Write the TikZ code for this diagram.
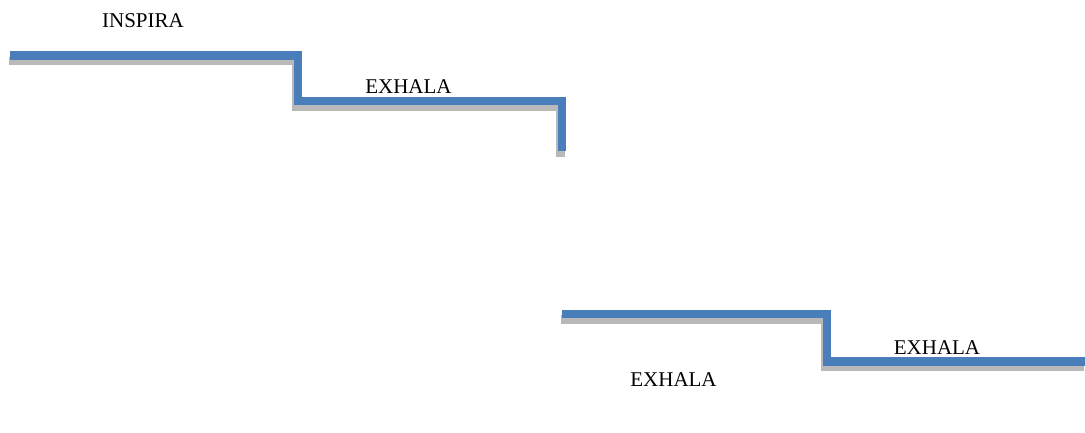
\documentclass[tikz,border=0pt]{standalone}
\usepackage{fontspec}
\setmainfont{Liberation Serif}
\definecolor{stepblue}{RGB}{74,126,187}
\definecolor{stepshade}{RGB}{185,185,185}
\begin{document}
\begin{tikzpicture}[x=1pt,y=-1pt,
  stair/.style={draw=stepblue,line width=8.5pt,line join=miter},
  stairshade/.style={draw=stepshade,line width=8.5pt,line join=miter},
  lbl/.style={font=\fontsize{21}{24}\selectfont,anchor=base,inner sep=0pt}]
\useasboundingbox (0,0) rectangle (1085,432);
% upper staircase
\coordinate (a0) at (10,55.5);
\coordinate (a1) at (298,55.5);
\coordinate (a2) at (298,101);
\coordinate (a3) at (562,101);
\coordinate (a4) at (562,151);
% lower staircase
\coordinate (b0) at (562,314);
\coordinate (b1) at (827,314);
\coordinate (b2) at (827,361.5);
\coordinate (b3) at (1085,361.5);
% soft drop shadows beneath the steps
\tikzset{sh/.style={xshift=-1.5pt,yshift=-5.5pt}}
\draw[stairshade] ([sh]a0) -- ([sh]a1) -- ([sh]a2) -- ([sh]a3) -- ([sh]a4);
\draw[stairshade] ([sh]b0) -- ([sh]b1) -- ([sh]b2) -- ([sh]b3);
\draw[stair] (a0) -- (a1) -- (a2) -- (a3) -- (a4);
\draw[stair] (b0) -- (b1) -- (b2) -- (b3);
% labels
\node[lbl] (inspira) at (143,27) {INSPIRA};
\node[lbl] (exhalaA) at (408.5,93.5) {EXHALA};
\node[lbl] (exhalaB) at (937,354) {EXHALA};
\node[lbl] (exhalaC) at (673.5,386) {EXHALA};
\end{tikzpicture}
\end{document}
